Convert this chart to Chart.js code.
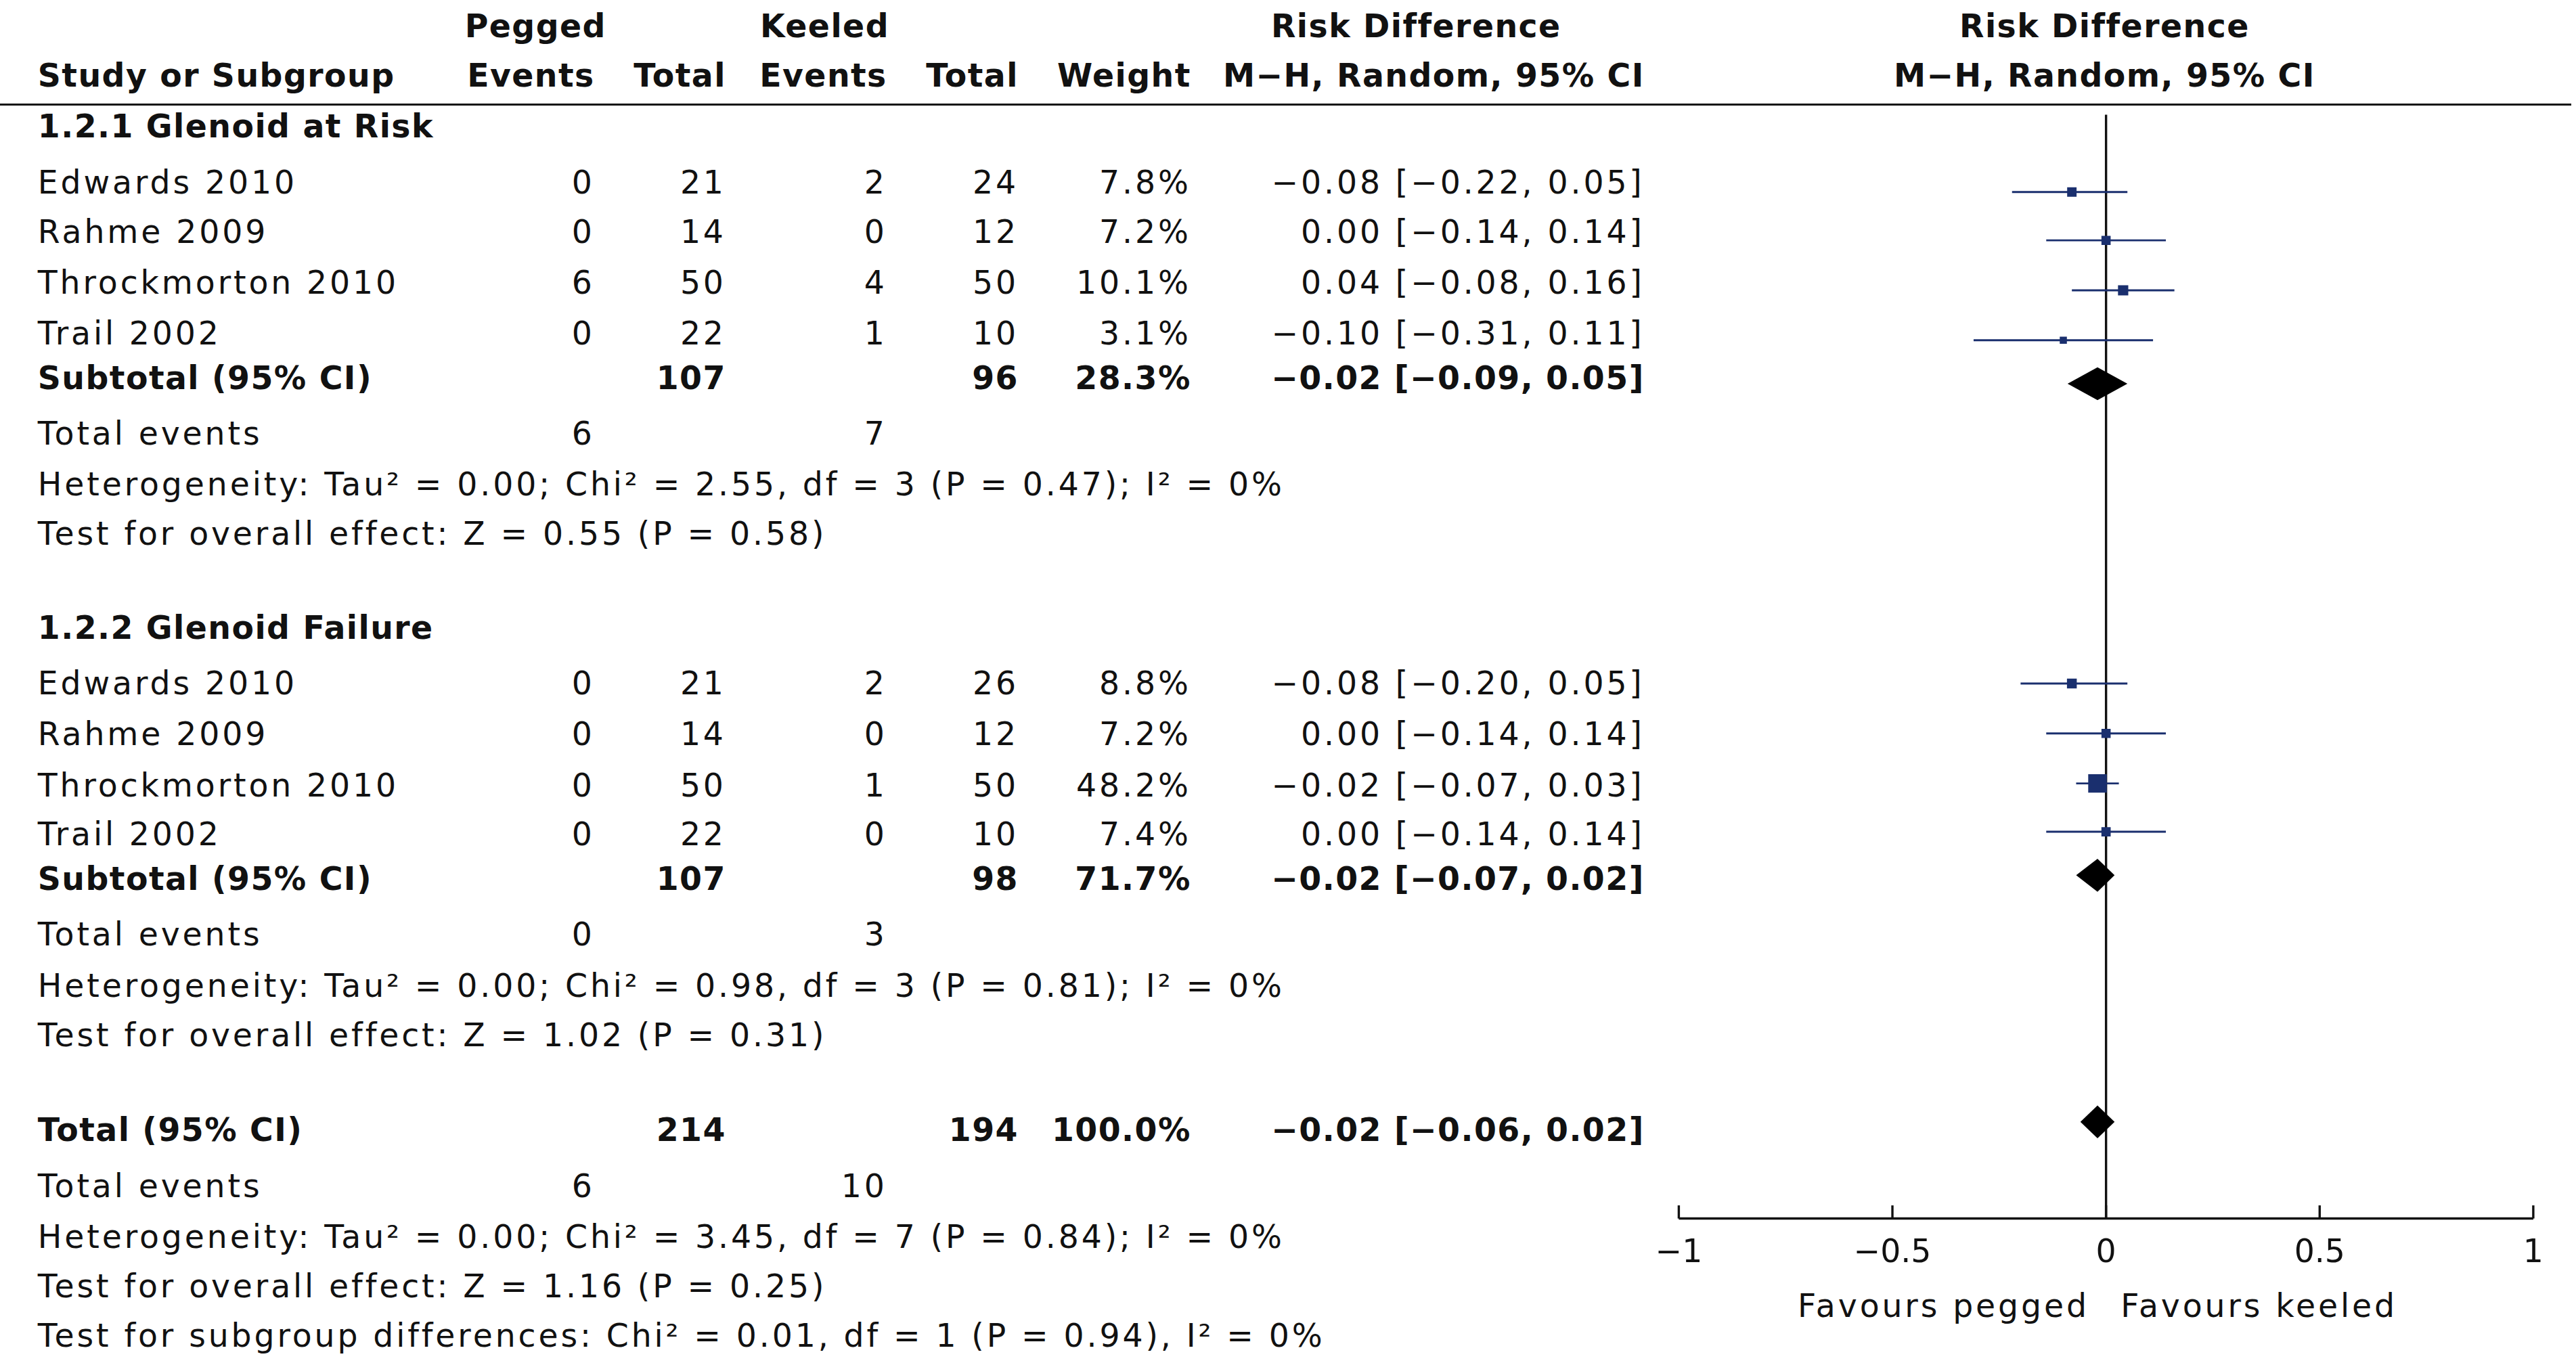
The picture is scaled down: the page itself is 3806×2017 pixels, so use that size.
<!DOCTYPE html>
<html>
<head>
<meta charset="utf-8">
<script src="https://cdn.jsdelivr.net/npm/chart.js@4"></script>
<style>
  html, body { margin: 0; padding: 0; background: #fff; }
  #page { position: relative; width: 3806px; height: 2017px; overflow: hidden; font-family: "DejaVu Sans", Verdana, sans-serif; color: #111; }
  .t { position: absolute; white-space: pre; line-height: 1; }
  #plot { position: absolute; }
</style>
</head>
<body>
<div id="page"></div>
<script>
// Layout scale: reference was read at 1568 px wide
const S = 3806 / 1568;
const FS = 19.5;

// Data
const studies = ['Edwards 2010', 'Rahme 2009', 'Throckmorton 2010', 'Trail 2002'];
const g1PegEvents = [0, 0, 6, 0];
const g1PegTotal = [21, 14, 50, 22];
const g1KeelEvents = [2, 0, 4, 1];
const g1KeelTotal = [24, 12, 50, 10];
const g1Weight = [7.8, 7.2, 10.1, 3.1];
const g1Est = [-0.08, 0.00, 0.04, -0.10];
const g1Lo = [-0.22, -0.14, -0.08, -0.31];
const g1Hi = [0.05, 0.14, 0.16, 0.11];

const g2PegEvents = [0, 0, 0, 0];
const g2PegTotal = [21, 14, 50, 22];
const g2KeelEvents = [2, 0, 1, 0];
const g2KeelTotal = [26, 12, 50, 10];
const g2Weight = [8.8, 7.2, 48.2, 7.4];
const g2Est = [-0.08, 0.00, -0.02, 0.00];
const g2Lo = [-0.20, -0.14, -0.07, -0.14];
const g2Hi = [0.05, 0.14, 0.03, 0.14];

// Pooled: [estimate, low, high]
const sub1 = [-0.02, -0.09, 0.05];
const sub2 = [-0.02, -0.07, 0.02];
const overall = [-0.02, -0.06, 0.02];
const subWeight = [28.3, 71.7, 100.0];

const xTicks = [-1, -0.5, 0, 0.5, 1];

// Row layout (reference px, vertical centers)
const rowY1 = [111, 141, 172, 203];
const rowY2 = [416, 447, 478, 508];
const subY = [230, 535, 688];

const page = document.getElementById('page');
function txt(s, x, y, align, bold) {
  const d = document.createElement('div');
  d.className = 't';
  d.textContent = s;
  d.style.fontSize = (FS * S) + 'px';
  d.style.fontWeight = bold ? 'bold' : 'normal';
  d.style.letterSpacing = ((bold ? 0.6 : 1.6) * S) + 'px';
  d.style.top = ((y - FS * 0.5) * S) + 'px';
  if (align === 'r') { d.style.right = ((1568 - x) * S) + 'px'; }
  else if (align === 'c') { d.style.left = (x * S) + 'px'; d.style.transform = 'translateX(-50%)'; }
  else { d.style.left = (x * S) + 'px'; }
  page.appendChild(d);
}
const fmt = v => (v < 0 ? '\u2212' : '') + Math.abs(v).toFixed(2);
const ci = a => fmt(a[0]) + ' [' + fmt(a[1]) + ', ' + fmt(a[2]) + ']';

// Headers
txt('Pegged', 326, 16, 'c', true);
txt('Keeled', 502, 16, 'c', true);
txt('Risk Difference', 862, 16, 'c', true);
txt('Risk Difference', 1281, 16, 'c', true);
txt('Study or Subgroup', 23, 46, 'l', true);
txt('Events', 362, 46, 'r', true);
txt('Total', 442, 46, 'r', true);
txt('Events', 540, 46, 'r', true);
txt('Total', 620, 46, 'r', true);
txt('Weight', 725, 46, 'r', true);
txt('M\u2212H, Random, 95% CI', 1001, 46, 'r', true);
txt('M\u2212H, Random, 95% CI', 1281, 46, 'c', true);
const rule = document.createElement('div');
rule.style.cssText = 'position:absolute;left:0;width:' + (1565 * S) + 'px;top:' + (63 * S) + 'px;height:' + (1.4 * S) + 'px;background:#111';
page.appendChild(rule);

function group(title, ty, ys, pe, pt, ke, kt, w, est, lo, hi, sub, sw, sy, het, z) {
  txt(title, 23, ty, 'l', true);
  ys.forEach((y, i) => {
    txt(studies[i], 23, y);
    txt(String(pe[i]), 362, y, 'r');
    txt(String(pt[i]), 442, y, 'r');
    txt(String(ke[i]), 540, y, 'r');
    txt(String(kt[i]), 620, y, 'r');
    txt(w[i].toFixed(1) + '%', 725, y, 'r');
    txt(ci([est[i], lo[i], hi[i]]), 1001, y, 'r');
  });
  const sumPT = pt.reduce((a, b) => a + b, 0), sumKT = kt.reduce((a, b) => a + b, 0);
  txt('Subtotal (95% CI)', 23, sy, 'l', true);
  txt(String(sumPT), 442, sy, 'r', true);
  txt(String(sumKT), 620, sy, 'r', true);
  txt(sw.toFixed(1) + '%', 725, sy, 'r', true);
  txt(ci(sub), 1001, sy, 'r', true);
  txt('Total events', 23, sy + 34);
  txt(String(pe.reduce((a, b) => a + b, 0)), 362, sy + 34, 'r');
  txt(String(ke.reduce((a, b) => a + b, 0)), 540, sy + 34, 'r');
  txt(het, 23, sy + 65);
  txt(z, 23, sy + 95);
}
group('1.2.1 Glenoid at Risk', 77, rowY1, g1PegEvents, g1PegTotal, g1KeelEvents, g1KeelTotal, g1Weight, g1Est, g1Lo, g1Hi, sub1, subWeight[0], subY[0],
  'Heterogeneity: Tau\u00b2 = 0.00; Chi\u00b2 = 2.55, df = 3 (P = 0.47); I\u00b2 = 0%', 'Test for overall effect: Z = 0.55 (P = 0.58)');
group('1.2.2 Glenoid Failure', 382, rowY2, g2PegEvents, g2PegTotal, g2KeelEvents, g2KeelTotal, g2Weight, g2Est, g2Lo, g2Hi, sub2, subWeight[1], subY[1],
  'Heterogeneity: Tau\u00b2 = 0.00; Chi\u00b2 = 0.98, df = 3 (P = 0.81); I\u00b2 = 0%', 'Test for overall effect: Z = 1.02 (P = 0.31)');

txt('Total (95% CI)', 23, subY[2], 'l', true);
txt('214', 442, subY[2], 'r', true);
txt('194', 620, subY[2], 'r', true);
txt(subWeight[2].toFixed(1) + '%', 725, subY[2], 'r', true);
txt(ci(overall), 1001, subY[2], 'r', true);
txt('Total events', 23, 722);
txt('6', 362, 722, 'r');
txt('10', 540, 722, 'r');
txt('Heterogeneity: Tau\u00b2 = 0.00; Chi\u00b2 = 3.45, df = 7 (P = 0.84); I\u00b2 = 0%', 23, 753);
txt('Test for overall effect: Z = 1.16 (P = 0.25)', 23, 783);
txt('Test for subgroup differences: Chi\u00b2 = 0.01, df = 1 (P = 0.94), I\u00b2 = 0%', 23, 813);
txt('Favours pegged', 1183, 795, 'c');
txt('Favours keeled', 1375, 795, 'c');

// Plot canvas on the right
const PL = 1000, PW = 568;
const cv = document.createElement('canvas');
cv.id = 'plot';
cv.width = Math.round(PW * S);
cv.height = Math.round(832 * S);
cv.style.left = (PL * S) + 'px';
cv.style.top = '0px';
cv.style.width = cv.width + 'px';
cv.style.height = cv.height + 'px';
page.appendChild(cv);

const AXIS_Y = 748;
const studyPts = [];
[[rowY1, g1Est, g1Lo, g1Hi, g1Weight], [rowY2, g2Est, g2Lo, g2Hi, g2Weight]].forEach(([ys, e, l, h, w]) => {
  ys.forEach((y, i) => studyPts.push({ x: e[i], y: y, lo: l[i], hi: h[i], w: w[i] }));
});
const pooledPts = [sub1, sub2, overall].map((p, i) => ({ x: p[0], y: subY[i], lo: p[1], hi: p[2] }));

const forestPlugin = {
  id: 'forest',
  beforeDatasetsDraw(chart) {
    const { ctx, scales: { x, y } } = chart;
    ctx.save();
    ctx.strokeStyle = '#111';
    ctx.lineWidth = 1.4 * S;
    // zero line
    ctx.beginPath();
    ctx.moveTo(x.getPixelForValue(0), y.getPixelForValue(63));
    ctx.lineTo(x.getPixelForValue(0), y.getPixelForValue(AXIS_Y));
    ctx.stroke();
    // axis
    const ay = y.getPixelForValue(AXIS_Y);
    ctx.beginPath();
    ctx.moveTo(x.getPixelForValue(-1), ay);
    ctx.lineTo(x.getPixelForValue(1), ay);
    ctx.stroke();
    ctx.fillStyle = '#111';
    ctx.font = (FS * S) + 'px "DejaVu Sans"';
    ctx.textAlign = 'center';
    ctx.textBaseline = 'middle';
    xTicks.forEach(t => {
      const px = x.getPixelForValue(t);
      ctx.beginPath();
      ctx.moveTo(px, ay - 8 * S);
      ctx.lineTo(px, ay);
      ctx.stroke();
      ctx.fillText((t < 0 ? '\u2212' : '') + Math.abs(t), px, y.getPixelForValue(770));
    });
    // CI whiskers
    ctx.strokeStyle = '#1a2f6e';
    ctx.lineWidth = 1.2 * S;
    studyPts.forEach(p => {
      const py = y.getPixelForValue(p.y);
      ctx.beginPath();
      ctx.moveTo(x.getPixelForValue(p.lo), py);
      ctx.lineTo(x.getPixelForValue(p.hi), py);
      ctx.stroke();
    });
    // diamonds
    ctx.fillStyle = '#000';
    pooledPts.forEach(p => {
      const py = y.getPixelForValue(p.y), h = 10 * S;
      ctx.beginPath();
      ctx.moveTo(x.getPixelForValue(p.lo), py);
      ctx.lineTo(x.getPixelForValue(p.x), py - h);
      ctx.lineTo(x.getPixelForValue(p.hi), py);
      ctx.lineTo(x.getPixelForValue(p.x), py + h);
      ctx.closePath();
      ctx.fill();
    });
    ctx.restore();
  }
};

new Chart(cv, {
  type: 'scatter',
  data: {
    datasets: [{
      data: studyPts,
      pointStyle: 'rect',
      backgroundColor: '#1a2f6e',
      borderWidth: 0,
      pointRadius: ctx => S * (1.4 + 6.6 * Math.sqrt((ctx.raw ? ctx.raw.w : 5) / 48.2))
    }]
  },
  options: {
    responsive: false,
    animation: false,
    devicePixelRatio: 1,
    layout: { padding: { left: 22 * S, right: 26 * S, top: 0, bottom: 0 } },
    plugins: { legend: { display: false }, tooltip: { enabled: false } },
    scales: {
      x: { type: 'linear', min: -1, max: 1, display: false },
      y: { type: 'linear', min: 0, max: 832, reverse: true, display: false }
    }
  },
  plugins: [forestPlugin]
});
</script>
</body>
</html>
